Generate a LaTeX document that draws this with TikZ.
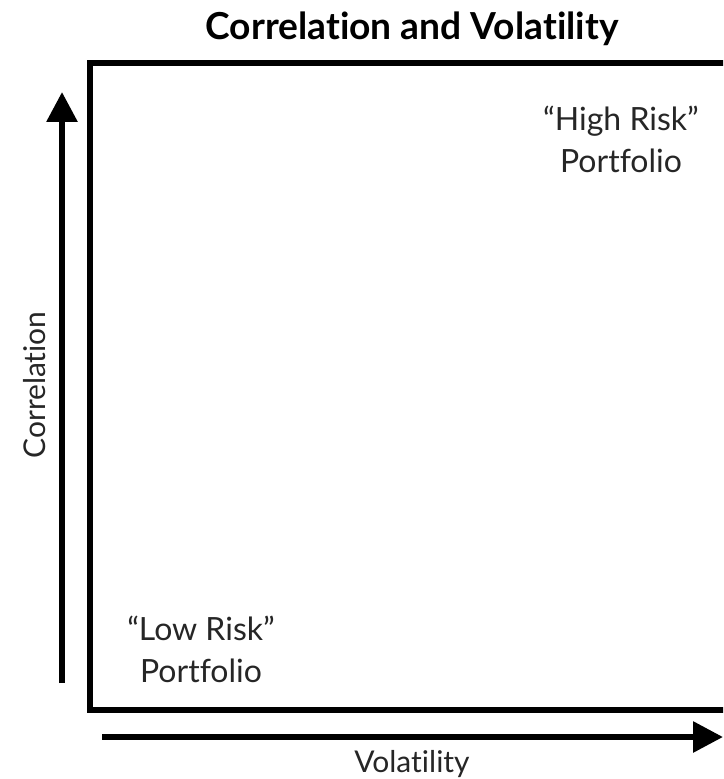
\documentclass[tikz,border=0pt]{standalone}
\usepackage{fontspec}
\setmainfont{Lato}[Ligatures={NoCommon}]
\usepackage{tikz}
\usetikzlibrary{arrows.meta}

\begin{document}
\begin{tikzpicture}[x=0.5pt,y=-0.5pt,
  axisarrow/.style={line width=3pt,-{Triangle[length=15pt,width=15pt]}},
  risklabel/.style={align=center,font=\fontsize{16}{21}\selectfont,text=black!85}]
\clip (0,0) rectangle (723,779);
% frame of the plot, open on the right
\coordinate (tr) at (740,63);
\coordinate (tl) at (90,63);
\coordinate (bl) at (90,710);
\coordinate (br) at (740,710);
\draw[line width=2.8pt] (tr) -- (tl) -- (bl) -- (br);
% axes
\coordinate (ybot) at (62,683);
\coordinate (ytop) at (62,92);
\coordinate (xleft) at (102,737);
\coordinate (xright) at (723,737);
\draw[axisarrow] (ybot) -- (ytop);
\draw[axisarrow] (xleft) -- (xright);
% texts
\node[font=\fontsize{18.6}{22}\selectfont\bfseries] (title) at (412,29) {Correlation and Volatility};
\node[font=\fontsize{15}{18}\selectfont,text=black!85] (xlab) at (412,764) {Volatility};
\node[font=\fontsize{15}{18}\selectfont,text=black!85,rotate=90] (ylab) at (35,385) {Correlation};
\node[risklabel] (high) at (621,139) {``High Risk''\\Portfolio};
\node[risklabel] (low) at (201,649) {``Low Risk''\\Portfolio};
\end{tikzpicture}
\end{document}
